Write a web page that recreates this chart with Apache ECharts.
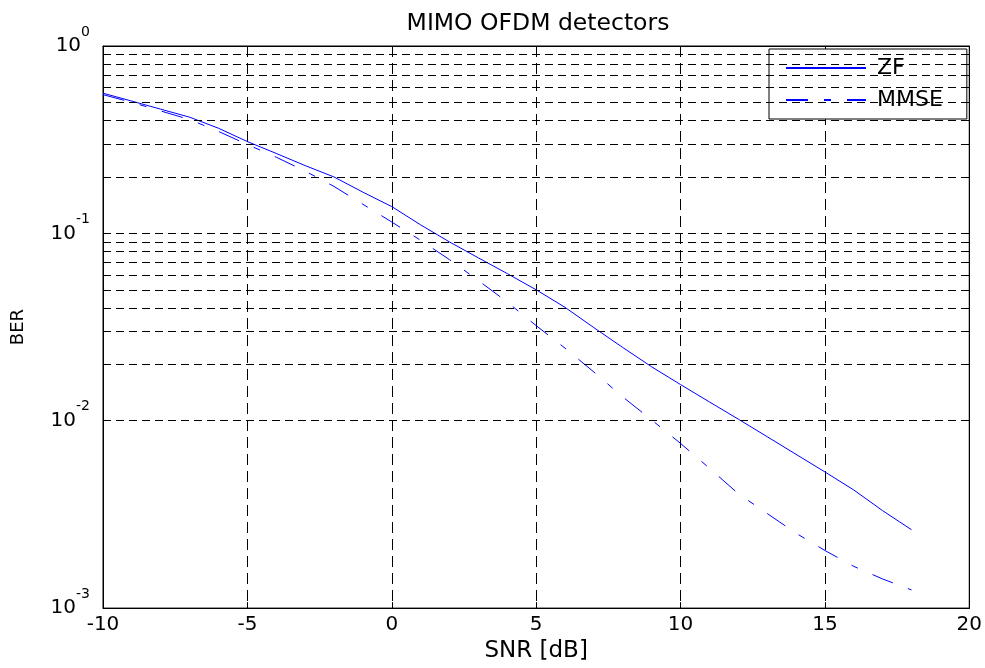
<!DOCTYPE html>
<html>
<head>
<meta charset="utf-8">
<script src="https://cdn.jsdelivr.net/npm/echarts@6/dist/echarts.min.js"></script>
<style>html,body{margin:0;padding:0;background:#fff}#c{width:985px;height:668px}</style>
</head>
<body>
<div id="c"></div>
<script>
// ---- data ----
const snr = [-10,-9,-8,-7,-6,-5,-4,-3,-2,-1,0,1,2,3,4,5,6,7,8,9,10,11,12,13,14,15,16,17,18];
const zfBer = [0.56,0.508,0.46,0.417,0.364,0.309,0.267,0.230,0.200,0.166,0.139,0.111,0.090,0.074,0.061,0.050,0.0403,0.0314,0.0246,0.0194,0.0156,0.0126,0.0102,0.00822,0.00662,0.00533,0.00427,0.00331,0.00262];
const mmseBer = [0.55,0.50,0.45,0.405,0.350,0.298,0.255,0.215,0.178,0.143,0.115,0.0918,0.0724,0.056,0.043,0.0322,0.0244,0.0182,0.0134,0.0101,0.00757,0.00558,0.00408,0.0032,0.00251,0.00203,0.00167,0.00143,0.00125];
const seriesNames = ['ZF','MMSE'];
const xTicks = {min:-10, max:20, step:5};
const yRange = {min:0.001, max:1};
const yGridValues = [0.002,0.003,0.004,0.005,0.006,0.007,0.008,0.009,0.01,
  0.02,0.03,0.04,0.05,0.06,0.07,0.08,0.09,0.1,
  0.2,0.3,0.4,0.5,0.6,0.7,0.8,0.9];
const titleText = 'MIMO OFDM detectors';
const xName = 'SNR [dB]';
const yName = 'BER';

// ---- chart ----
const FONT = 'DejaVu Sans';
const chart = echarts.init(document.getElementById('c'), null, {renderer:'canvas'});
const pair = (xs, ys) => xs.map((x,i)=>[x, ys[i]]);
const gridDash = [8,5];

const option = {
  animation:false,
  backgroundColor:'#fff',
  title:{text:titleText, left:533, top:7, textAlign:'center',
    textStyle:{fontFamily:FONT, fontSize:23.5, fontWeight:'normal', color:'#000'}},
  grid:{left:103, right:14, top:46, bottom:59, show:true, borderColor:'#000', borderWidth:1, backgroundColor:'#fff'},
  legend:{
    data:seriesNames, orient:'vertical', align:'left', left:769, top:49,
    padding:[8,24,8,16], itemGap:10, itemWidth:80, itemHeight:14,
    backgroundColor:'#fff', borderColor:'#000', borderWidth:1,
    itemStyle:{opacity:0, borderWidth:0},
    textStyle:{fontFamily:FONT, fontSize:22, lineHeight:22, color:'#000', padding:[0,0,0,6]}
  },
  xAxis:[{
    type:'value', min:xTicks.min, max:xTicks.max, interval:xTicks.step,
    name:xName, nameLocation:'middle', nameGap:19,
    nameTextStyle:{fontFamily:FONT, fontSize:23, color:'#000'},
    axisLine:{show:true, onZero:false, lineStyle:{color:'#000', width:1}},
    axisTick:{show:true, inside:true, length:6, lineStyle:{color:'#000'}},
    axisLabel:{fontFamily:FONT, fontSize:20, color:'#000', margin:7},
    splitLine:{show:true, lineStyle:{color:'#000', type:[11,6], width:1}}
  },{
    type:'value', position:'top', min:xTicks.min, max:xTicks.max, interval:xTicks.step,
    axisLine:{show:true, onZero:false, lineStyle:{color:'#000'}},
    axisTick:{show:true, inside:true, length:6, lineStyle:{color:'#000'}},
    axisLabel:{show:false}, splitLine:{show:false}
  }],
  yAxis:[{
    type:'log', logBase:10, min:yRange.min, max:yRange.max,
    name:yName, nameLocation:'middle', nameGap:76, nameRotate:90,
    nameTextStyle:{fontFamily:FONT, fontSize:18, color:'#000'},
    axisLine:{show:true, onZero:false, lineStyle:{color:'#000'}},
    axisTick:{show:true, inside:true, length:6, lineStyle:{color:'#000'}},
    splitLine:{show:false},
    axisLabel:{
      margin:13,
      formatter:v=>'{b|10}{s|'+Math.round(Math.log10(v))+'}',
      rich:{
        b:{fontFamily:FONT, fontSize:20, lineHeight:42, color:'#000', verticalAlign:'middle'},
        s:{fontFamily:FONT, fontSize:14, lineHeight:14, color:'#000', verticalAlign:'top'}
      }
    }
  },{
    type:'log', logBase:10, min:yRange.min, max:yRange.max, position:'right',
    axisLine:{show:true, onZero:false, lineStyle:{color:'#000'}},
    axisTick:{show:true, inside:true, length:6, lineStyle:{color:'#000'}},
    axisLabel:{show:false}, splitLine:{show:false}
  }],
  series:[
    {
      name:'grid', type:'line', data:[], z:1, silent:true,
      markLine:{silent:true, symbol:['none','none'], animation:false,
        label:{show:false},
        lineStyle:{color:'#000', type:gridDash, width:1},
        data:yGridValues.map(v=>({yAxis:v}))}
    },
    {
      name:seriesNames[0], type:'line', data:pair(snr, zfBer), showSymbol:false, symbol:'none', z:3,
      lineStyle:{color:'#0000ff', width:1, type:'solid'}, itemStyle:{color:'#0000ff'}
    },
    {
      name:seriesNames[1], type:'line', data:pair(snr, mmseBer), showSymbol:false, symbol:'none', z:3,
      lineStyle:{color:'#0000ff', width:1, type:[22,16,7,16]}, itemStyle:{color:'#0000ff'}
    }
  ]
};
chart.setOption(option);
</script>
</body>
</html>
